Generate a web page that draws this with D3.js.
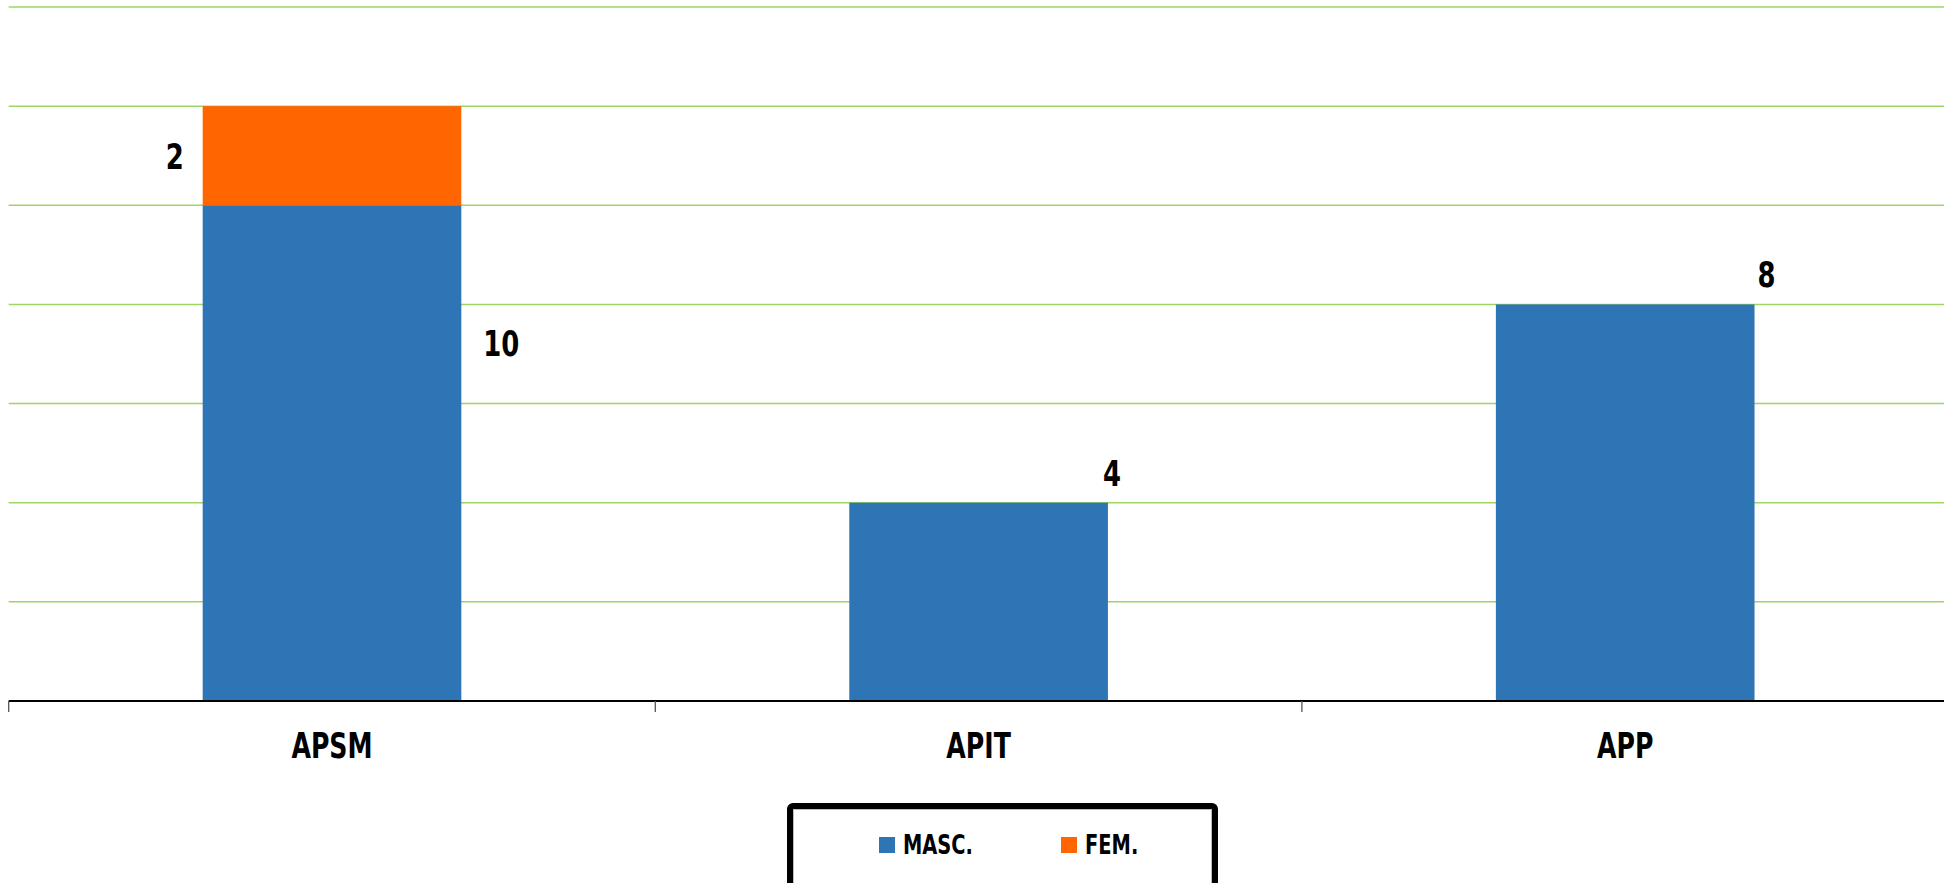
<!DOCTYPE html>
<html>
<head>
<meta charset="utf-8">
<script src="https://cdn.jsdelivr.net/npm/d3@7"></script>
<style>
  html, body { margin: 0; padding: 0; background: #fff; overflow: hidden; }
  svg { display: block; }
  text { font-family: "Liberation Sans Narrow", "DejaVu Sans Condensed", "Arial Narrow", sans-serif; font-weight: bold; font-stretch: condensed; fill: #000; }
</style>
</head>
<body>
<svg id="chart" width="1944" height="883"></svg>
<script>
const categories = ["APSM", "APIT", "APP"];
const masc = [10, 4, 8];
const fem = [2, 0, 0];
const seriesNames = ["MASC.", "FEM."];
const yTicks = [0, 2, 4, 6, 8, 10, 12, 14];

const W = 1944, H = 883;
const SX = 0.8; // horizontal squeeze to mimic the condensed face
const svg = d3.select("#chart");
const margin = { left: 8.7, right: -4.5, top: 7, bottom: 182 };
const plotBottom = H - margin.bottom; // 701
const x = d3.scaleBand().domain(categories).range([margin.left, W - margin.right]).paddingInner(0.6).paddingOuter(0.3);
const y = d3.scaleLinear().domain([0, 14]).range([plotBottom, margin.top]);

const colors = { "MASC.": "#2E75B6", "FEM.": "#FF6600" };

function label(g, tx, ty, str, size, anchor) {
  return g.append("text")
    .attr("transform", `translate(${tx},${ty}) scale(${SX},1)`)
    .attr("text-anchor", anchor || "middle")
    .attr("font-size", size)
    .text(str);
}

// gridlines
svg.append("g").selectAll("line").data(yTicks.filter(d => d > 0)).join("line")
  .attr("x1", margin.left).attr("x2", W)
  .attr("y1", d => y(d)).attr("y2", d => y(d))
  .attr("stroke", "#92d050").attr("stroke-opacity", 0.9).attr("stroke-width", 1.5);

// stacked data
const rows = categories.map((c, i) => ({ cat: c, "MASC.": masc[i], "FEM.": fem[i] }));
const stack = d3.stack().keys(seriesNames)(rows);

svg.append("g").selectAll("g").data(stack).join("g")
  .attr("fill", d => colors[d.key])
  .selectAll("rect").data(d => d.filter(p => p[1] - p[0] > 0)).join("rect")
  .attr("x", d => x(d.data.cat))
  .attr("width", x.bandwidth())
  .attr("y", d => y(d[1]))
  .attr("height", d => y(d[0]) - y(d[1]));

// x axis
const axisG = svg.append("g").attr("transform", `translate(0,${plotBottom})`);
axisG.append("line").attr("x1", margin.left).attr("x2", W).attr("y1", 0).attr("y2", 0)
  .attr("stroke", "#000").attr("stroke-width", 2);
const tickXs = d3.range(categories.length + 1).map(i => margin.left + i * (W - margin.right - margin.left) / categories.length);
axisG.selectAll("line.tick").data(tickXs).join("line").attr("class", "tick")
  .attr("x1", d => d).attr("x2", d => d).attr("y1", 0).attr("y2", 11)
  .attr("stroke", "#555").attr("stroke-width", 1.3);
categories.forEach(c => label(axisG, x(c) + x.bandwidth() / 2, 57, c, 35));

// data labels
const lbl = svg.append("g");
categories.forEach((c, i) => {
  const left = x(c), right = x(c) + x.bandwidth();
  if (fem[i] > 0) {
    label(lbl, left - 28, (y(masc[i]) + y(masc[i] + fem[i])) / 2 + 13, fem[i], 36);
    label(lbl, right + 40, y(masc[i]) + 151, masc[i], 36);
  } else {
    const dx = i === 1 ? 4 : 12;
    label(lbl, right + dx, y(masc[i]) - 17, masc[i], 36);
  }
});

// legend
const leg = svg.append("g");
leg.append("rect").attr("x", 790).attr("y", 806).attr("width", 425).attr("height", 90)
  .attr("rx", 3).attr("fill", "#fff").attr("stroke", "#000").attr("stroke-width", 6);
leg.append("rect").attr("x", 793.5).attr("y", 809.5).attr("width", 418).attr("height", 83)
  .attr("fill", "none").attr("stroke", "#bbb").attr("stroke-width", 1);
const legX = [879, 1061];
seriesNames.forEach((s, i) => {
  leg.append("rect").attr("x", legX[i]).attr("y", 837).attr("width", 16).attr("height", 16).attr("fill", colors[s]);
  label(leg, legX[i] + 24, 854, s, 27, "start");
});
</script>
</body>
</html>
